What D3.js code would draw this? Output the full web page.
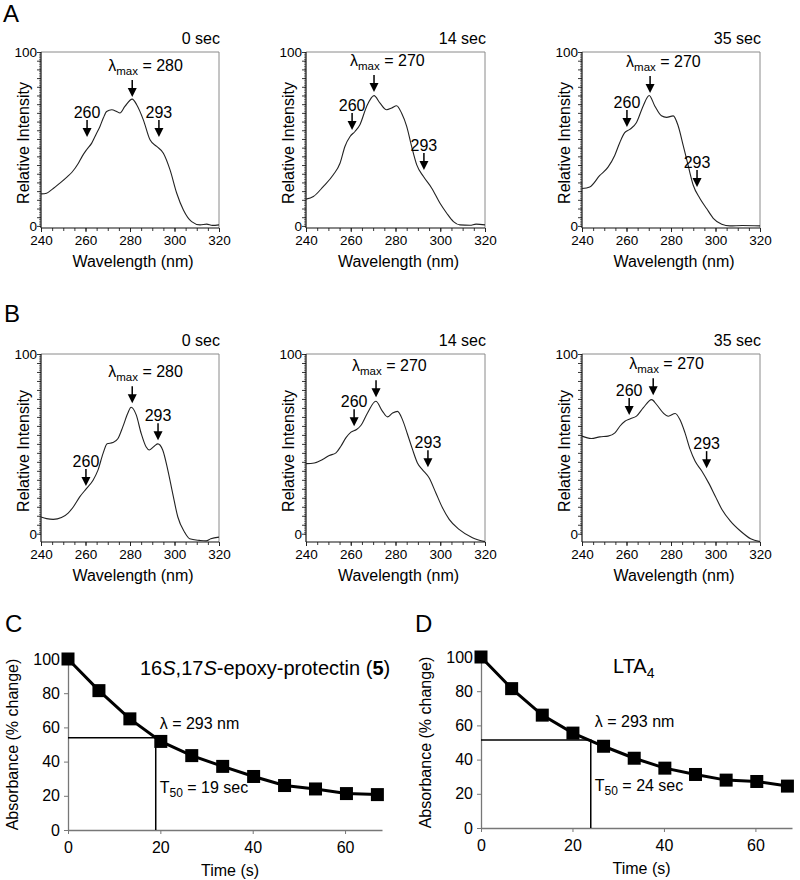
<!DOCTYPE html>
<html><head><meta charset="utf-8">
<script src="https://cdn.jsdelivr.net/npm/d3@7"></script>
<style>
body{margin:0;background:#fff}
text{font-family:"Liberation Sans",Arial,sans-serif;fill:#000}
</style>
</head><body>
<svg id="c" width="800" height="880"></svg>
<script>
// ---------- DATA ----------
// Panel A spectra (wavelength nm, relative intensity)
const wlA0  = [240,242.5,245,248.5,252,254,256.8,258.5,260.5,262.8,264.5,266.5,268,269.5,271.8,274,275.5,277.7,281,283,286,289,292,295,298,301,304,307.7,311.5,314.5,317,320];
const intA0 = [18.4,18.8,21,24.6,28.5,31,36,40,43.8,47.6,52,57.2,62,65.8,66.8,65.8,64.9,68.7,72.9,69.7,61,49.5,45.7,41.8,32.2,18.8,9.2,2.5,0.6,1,0.3,0.6];
const wlA14  = [240,243.3,247.7,252.2,255.2,257.4,259.7,261.9,264.1,267.1,270.4,273.1,276,278.3,280.5,282.7,285,287.2,289.5,292.5,296.2,299.9,302.9,305.9,308.8,313.3,316,320];
const intA14 = [15.4,16.9,22.6,29.4,36,45.7,51.4,54.3,58.2,68.7,74.9,70.6,66.8,67.8,69.1,64.9,57.2,45.7,35.1,28.4,21.7,13,7.3,2.5,0.6,0.4,1,0.6];
const wlA35  = [240,243.5,248,251.7,254.7,257,259.2,261.5,264.5,267.5,270.2,272.7,275.7,278,281,283.2,285.5,287.7,290,293,296,299,302.8,306.5,312,320];
const intA35 = [21.5,22.4,29,33.8,40.5,48,53.6,55.5,59.5,69,75,69,63.3,62.4,63.3,57.6,46.2,34.8,23.4,15.8,10,4.4,1,0,0.2,0];
// Panel B spectra
const wlB0  = [240,242.5,245.5,249.2,252.2,254.5,257.4,260.4,263.4,265.6,267.9,269.7,272.3,274.6,276.8,279,280.5,282.8,285,287.2,288.7,291,292.5,294.7,297,299.2,301.5,304.5,306.8,311.2,314.2,316.3,320];
const intB0 = [9.3,8.4,8,9,11.5,14.9,20.5,25.1,29.8,35.4,44.7,50,50.7,53,59.6,67,70.4,66.1,55.9,48.4,46.6,48.8,50,46.6,35.4,22.3,9.3,0.9,-2.8,-3.7,-4,-2.8,-1.9];
const wlB14  = [240,243.7,247.4,250.4,253.4,255.6,257.8,260.1,262.6,264.5,267.5,271.2,274.2,276.4,278.7,280.9,283.1,285.4,287.6,289.8,292,295,298,301,304,308.4,314.4,320];
const intB14 = [39,39.4,41.3,43.5,45,48.7,53.3,56.5,58,60.2,67.2,73.7,68.1,65,67.2,68.1,63.5,55.2,46.9,39.4,35.7,31.1,22.8,14.4,8,2.4,-2.2,-4.4];
const wlB35  = [240,244.2,248,251.7,254.8,257,259.3,261.5,264.5,267.5,271.3,273.5,276.5,278.8,281.9,284,286.3,288.6,290.8,293.9,296.9,299.9,302.9,306.7,311.2,315.8,320];
const intB35 = [54.3,53,53.9,54.3,56.1,59.8,62.6,63.9,65.4,70,74.6,71.9,67.2,65.4,66.9,63.5,56.1,46.9,40.4,34.8,28.3,20.9,13.5,7,1.5,-2.8,-4.4];

const spectrumTitles = ["0 sec","14 sec","35 sec"];
const wlTicks = [240,260,280,300,320];
const intTicks = [0,100];

// Arrow annotations: [wavelength, intensity at arrow tip, label]
const arrowsA0  = [[281,74.1,"max|280"],[260.7,51.1,"260"],[293,51.1,"293"]];
const arrowsA14 = [[270.4,77,"max|270"],[260.6,55.2,"260"],[292.7,32.2,"293"]];
const arrowsA35 = [[270.6,76.4,"max|270"],[260.2,56.9,"260"],[291.7,22.4,"293"]];
const arrowsB0  = [[281,72.6,"max|280"],[260.2,26.5,"260"],[292.6,52,"293"]];
const arrowsB14 = [[271.3,76,"max|270"],[261.5,59.8,"260"],[294.5,37,"293"]];
const arrowsB35 = [[272,77,"max|270"],[261.2,66,"260"],[296,36.5,"293"]];

// Panels C/D: absorbance decay at 293 nm
const timeC = [0,6.7,13.4,20.1,26.8,33.5,40.2,46.9,53.6,60.3,67];
const absC  = [100,81.5,65,51.8,43.5,37.2,31.3,26,24,21.3,20.7];
const timeD = [0,6.7,13.4,20.1,26.8,33.5,40.2,46.9,53.6,60.3,67];
const absD  = [100,81.5,66,55.5,47.8,40.8,35,31.3,28,27.2,24.5];
const t50C = 19, half50C = 54;
const t50D = 24, half50D = 51.5;
const timeTicks = [0,20,40,60];
const absTicks = [0,20,40,60,80,100];

// ---------- DRAW ----------
const svg = d3.select("#c");

function spectrum(box, yDom, wl, vals, title, arrows) {
  const x = d3.scaleLinear().domain([240,320]).range([box.l, box.r]);
  const y = d3.scaleLinear().domain(yDom).range([box.b, box.t]);
  const g = svg.append("g");
  // frame top/right
  g.append("path").attr("d", `M${box.l},${box.t}H${box.r}V${box.b}`)
    .attr("fill","none").attr("stroke","#8a8a8a").attr("stroke-width",1);
  // y axis minor ticks
  g.append("g").attr("transform",`translate(${box.l},0)`)
    .call(d3.axisLeft(y).tickValues(d3.range(0,101,1)).tickSize(2).tickSizeOuter(0).tickFormat(""))
    .call(s=>s.selectAll("line").attr("stroke","#444").attr("stroke-width",0.7))
    .call(s=>s.select(".domain").remove());
  g.append("g").attr("transform",`translate(${box.l},0)`)
    .call(d3.axisLeft(y).tickValues(d3.range(0,101,5)).tickSize(4).tickSizeOuter(0).tickFormat(""))
    .call(s=>s.selectAll("line").attr("stroke","#222").attr("stroke-width",0.9))
    .call(s=>s.select(".domain").remove());
  // y labels
  g.append("g").attr("transform",`translate(${box.l},0)`)
    .call(d3.axisLeft(y).tickValues(intTicks).tickSize(0).tickPadding(4).tickSizeOuter(0))
    .call(s=>s.select(".domain").remove())
    .call(s=>s.selectAll("text").attr("font-size",13.5).attr("font-family",'"Liberation Sans",Arial,sans-serif').attr("fill","#000"));
  g.append("line").attr("x1",box.l).attr("x2",box.l).attr("y1",box.t).attr("y2",box.b)
    .attr("stroke","#111").attr("stroke-width",1.2);
  // x axis
  g.append("g").attr("transform",`translate(0,${box.b})`)
    .call(d3.axisBottom(x).tickValues(d3.range(240,321,5)).tickSize(3).tickSizeOuter(0).tickFormat(""))
    .call(s=>s.selectAll("line").attr("stroke","#222").attr("stroke-width",0.9))
    .call(s=>s.select(".domain").remove());
  g.append("g").attr("transform",`translate(0,${box.b})`)
    .call(d3.axisBottom(x).tickValues(wlTicks).tickSize(4).tickPadding(3).tickSizeOuter(0))
    .call(s=>s.select(".domain").remove())
    .call(s=>s.selectAll("line").attr("stroke","#222"))
    .call(s=>s.selectAll("text").attr("font-size",13.5).attr("font-family",'"Liberation Sans",Arial,sans-serif').attr("fill","#000"));
  g.append("line").attr("x1",box.l).attr("x2",box.r).attr("y1",box.b).attr("y2",box.b)
    .attr("stroke","#111").attr("stroke-width",1.2);
  // curve
  const pts = wl.map((w,i)=>[w, vals[i]]);
  g.append("path").datum(pts)
    .attr("d", d3.line().x(d=>x(d[0])).y(d=>y(d[1])).curve(d3.curveMonotoneX))
    .attr("fill","none").attr("stroke","#222").attr("stroke-width",1.1);
  // title
  g.append("text").attr("x",box.r+1).attr("y",box.t-8).attr("text-anchor","end")
    .attr("font-size",16).text(title);
  // axis titles
  g.append("text").attr("x",(box.l+box.r)/2+3).attr("y",box.b+39).attr("text-anchor","middle")
    .attr("font-size",16).text("Wavelength (nm)");
  g.append("text").attr("transform",`translate(${box.l-18},${(box.t+box.b)/2+3}) rotate(-90)`)
    .attr("text-anchor","middle").attr("dy","0.35em").attr("font-size",16).text("Relative Intensity");
  // arrows
  arrows.forEach(([w,v,lab])=>{
    const ax = x(w), ay = y(v);
    g.append("line").attr("x1",ax).attr("x2",ax).attr("y1",ay-17).attr("y2",ay-8)
      .attr("stroke","#000").attr("stroke-width",1.5);
    g.append("path").attr("d",`M${ax-4.5},${ay-9}L${ax+4.5},${ay-9}L${ax},${ay}Z`).attr("fill","#000");
    if (lab.startsWith("max|")) {
      const t = g.append("text").attr("x",ax-24).attr("y",ay-26).attr("font-size",16);
      t.append("tspan").text("λ");
      t.append("tspan").attr("font-size",11.5).attr("dy",4).text("max");
      t.append("tspan").attr("dy",-4).text(" = " + lab.split("|")[1]);
    } else {
      g.append("text").attr("x",ax).attr("y",ay-19).attr("text-anchor","middle")
        .attr("font-size",16).text(lab);
    }
  });
}

const colsX = [{l:41,r:219},{l:306,r:485},{l:582,r:760}];
const rowA = {t:52,b:228}, rowB = {t:354,b:542};
const yDomA = [-1.2,100], yDomB = [-4.6,100];
const specA = [[wlA0,intA0,arrowsA0],[wlA14,intA14,arrowsA14],[wlA35,intA35,arrowsA35]];
const specB = [[wlB0,intB0,arrowsB0],[wlB14,intB14,arrowsB14],[wlB35,intB35,arrowsB35]];
specA.forEach((s,i)=>spectrum({...colsX[i],...rowA}, yDomA, s[0], s[1], spectrumTitles[i], s[2]));
specB.forEach((s,i)=>spectrum({...colsX[i],...rowB}, yDomB, s[0], s[1], spectrumTitles[i], s[2]));

function decay(box, times, vals, t50, h50, titleFn, titleX) {
  const x = d3.scaleLinear().domain([0,68]).range([box.l, box.r]);
  const y = d3.scaleLinear().domain([0,100]).range([box.b, box.t]);
  const g = svg.append("g");
  const fam = '"Liberation Sans",Arial,sans-serif';
  g.append("g").attr("transform",`translate(${box.l},0)`)
    .call(d3.axisLeft(y).tickValues(absTicks).tickSize(4).tickPadding(4).tickSizeOuter(0))
    .call(s=>s.select(".domain").attr("stroke","#777").attr("stroke-width",1.3))
    .call(s=>s.selectAll("line").attr("stroke","#777"))
    .call(s=>s.selectAll("text").attr("font-size",16).attr("font-family",fam).attr("fill","#000"));
  g.append("g").attr("transform",`translate(0,${box.b})`)
    .call(d3.axisBottom(x).tickValues(timeTicks).tickSize(4).tickPadding(8).tickSizeOuter(0))
    .call(s=>s.select(".domain").attr("stroke","#777").attr("stroke-width",1.3))
    .call(s=>s.selectAll("line").attr("stroke","#777"))
    .call(s=>s.selectAll("text").attr("font-size",16).attr("font-family",fam).attr("fill","#000"));
  // half-life guide lines
  g.append("path").attr("d",`M${x(0)},${y(h50)}H${x(t50)}V${y(0)}`)
    .attr("fill","none").attr("stroke","#000").attr("stroke-width",1.5);
  const pts = times.map((t,i)=>[t, vals[i]]);
  g.append("path").datum(pts).attr("d", d3.line().x(d=>x(d[0])).y(d=>y(d[1])))
    .attr("fill","none").attr("stroke","#000").attr("stroke-width",3);
  g.selectAll("rect.m").data(pts).enter().append("rect")
    .attr("x",d=>x(d[0])-6.5).attr("y",d=>y(d[1])-6.5).attr("width",13).attr("height",13).attr("fill","#000");
  // labels
  g.append("text").attr("x",(box.l+box.r)/2+5).attr("y",box.b+46).attr("text-anchor","middle")
    .attr("font-size",16).text("Time (s)");
  g.append("text").attr("transform",`translate(${box.l-56},${(box.t+box.b)/2}) rotate(-90)`)
    .attr("text-anchor","middle").attr("dy","0.35em").attr("font-size",16).text("Absorbance (% change)");
  const tt = g.append("text").attr("x",titleX).attr("y",box.t+16).attr("font-size",20);
  titleFn(tt);
  g.append("text").attr("x",x(t50)+4).attr("y",box.t+70).attr("font-size",16).text("λ = 293 nm");
  const t2 = g.append("text").attr("x",x(t50)+4).attr("y",box.t+134).attr("font-size",16);
  t2.append("tspan").text("T");
  t2.append("tspan").attr("font-size",12).attr("dy",4).text("50");
  t2.append("tspan").attr("dy",-4).text(" = " + t50 + " sec");
}

decay({l:68,r:382,t:659,b:830}, timeC, absC, t50C, half50C, t=>{
  t.append("tspan").text("16");
  t.append("tspan").attr("font-style","italic").text("S");
  t.append("tspan").text(",17");
  t.append("tspan").attr("font-style","italic").text("S");
  t.append("tspan").text("-epoxy-protectin (");
  t.append("tspan").attr("font-weight","bold").text("5");
  t.append("tspan").text(")");
}, 140);
decay({l:481,r:792,t:657,b:828}, timeD, absD, t50D, half50D, t=>{
  t.append("tspan").text("LTA");
  t.append("tspan").attr("font-size",14).attr("dy",5).text("4");
}, 613);

// panel letters
[["A",3,22],["B",4,322],["C",5,632],["D",415,632]].forEach(([s,x,y])=>{
  svg.append("text").attr("x",x).attr("y",y).attr("font-size",24).text(s);
});
</script>
</body></html>
